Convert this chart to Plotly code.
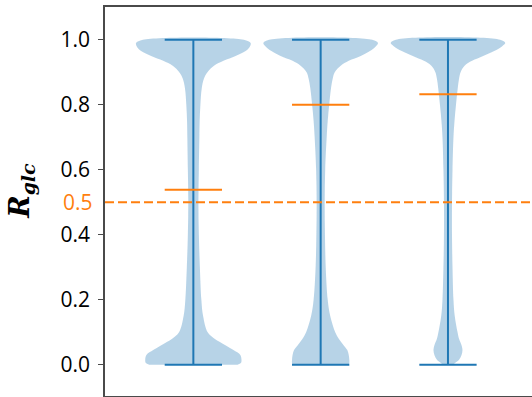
import plotly.graph_objects as go

# ---- data ----
positions = [1, 2, 3]
y_levels = [0.0, 0.005, 0.015, 0.03, 0.045, 0.06, 0.08, 0.1, 0.15, 0.2, 0.3, 0.4, 0.5,
            0.6, 0.7, 0.75, 0.8, 0.85, 0.88, 0.9, 0.92, 0.935, 0.95, 0.965, 0.98, 0.99, 1.0]
density_1 = [0.77, 0.83, 0.84, 0.82, 0.70, 0.56, 0.37, 0.25, 0.17, 0.14, 0.114, 0.096, 0.088,
             0.096, 0.105, 0.11, 0.123, 0.146, 0.184, 0.246, 0.36, 0.526, 0.737, 0.912, 0.99, 1.0, 0.88]
density_2 = [0.49, 0.50, 0.50, 0.49, 0.465, 0.40, 0.316, 0.254, 0.167, 0.123, 0.088, 0.075, 0.07,
             0.079, 0.105, 0.123, 0.149, 0.18, 0.21, 0.246, 0.35, 0.49, 0.70, 0.86, 0.965, 1.0, 0.90]
density_3 = [0.088, 0.123, 0.193, 0.237, 0.253, 0.237, 0.193, 0.167, 0.118, 0.096, 0.079, 0.07, 0.07,
             0.079, 0.096, 0.114, 0.14, 0.17, 0.193, 0.22, 0.29, 0.42, 0.614, 0.807, 0.947, 1.0, 0.91]
densities = [density_1, density_2, density_3]
mins = [0.0, 0.0, 0.0]
maxs = [1.0, 1.0, 1.0]
means = [0.538, 0.80, 0.832]
threshold = 0.5
ytick_vals = [0.0, 0.2, 0.4, 0.6, 0.8, 1.0]
ytick_text = ["0.0", "0.2", "0.4", "0.6", "0.8", "1.0"]

# ---- style ----
BLUE = "#1f77b4"
ORANGE = "#ff7f0e"
FILL = "rgba(31,119,180,0.32)"
WIDTH = 0.9
HALF = WIDTH / 2
BAR = WIDTH / 4
AXC = "#4a4a4a"

fig = go.Figure()

for pos, dens in zip(positions, densities):
    xs_r = [pos + d * HALF for d in dens]
    xs_l = [pos - d * HALF for d in reversed(dens)]
    fig.add_trace(go.Scatter(
        x=xs_r + xs_l, y=y_levels + list(reversed(y_levels)),
        fill="toself", fillcolor=FILL, mode="lines", line=dict(width=0, color=FILL),
        line_shape="spline", hoverinfo="skip", showlegend=False))

fig.add_shape(type="line", xref="paper", x0=0, x1=1, yref="y", y0=threshold, y1=threshold,
              line=dict(color=ORANGE, width=2, dash="9px,4px"), layer="above")

for pos, lo, hi, mu in zip(positions, mins, maxs, means):
    fig.add_trace(go.Scatter(x=[pos, pos], y=[lo, hi], mode="lines",
                             line=dict(color=BLUE, width=2), showlegend=False, hoverinfo="skip"))
    for val in (lo, hi):
        fig.add_trace(go.Scatter(x=[pos - BAR, pos + BAR], y=[val, val], mode="lines",
                                 line=dict(color=BLUE, width=2), showlegend=False, hoverinfo="skip"))
    fig.add_trace(go.Scatter(x=[pos - BAR, pos + BAR], y=[mu, mu], mode="lines",
                             line=dict(color=ORANGE, width=2), showlegend=False, hoverinfo="skip"))

fig.update_layout(
    width=532, height=397,
    margin=dict(l=105, r=0, t=7, b=1),
    plot_bgcolor="white", paper_bgcolor="white",
    font=dict(family="Open Sans", size=21, color="black"),
    xaxis=dict(range=[0.306, 3.660], showgrid=False, zeroline=False, showticklabels=False,
               ticks="", showline=True, linecolor=AXC, linewidth=1.5, mirror=True),
    yaxis=dict(range=[-0.0963, 1.1006], showgrid=False, zeroline=False,
               tickvals=ytick_vals, ticktext=ytick_text, ticks="outside", ticklen=5,
               tickwidth=1.2, tickcolor=AXC, showline=True, linecolor=AXC, linewidth=1.5,
               ticklabelstandoff=4),
)

fig.add_annotation(xref="paper", x=0, xshift=-10, xanchor="right", yref="y", y=threshold,
                   text="0.5", showarrow=False, font=dict(family="Open Sans", size=21, color=ORANGE))
fig.add_annotation(xref="paper", x=0, xshift=-83, xanchor="center", yref="y", y=0.535,
                   text="<b><i>R<sub>glc</sub></i></b>", textangle=-90, showarrow=False,
                   font=dict(family="DejaVu Serif", size=27, color="black"))

fig.write_html("out.html", config={"displayModeBar": False},
               post_script="document.body.style.margin='0';document.body.style.overflow='hidden';")
